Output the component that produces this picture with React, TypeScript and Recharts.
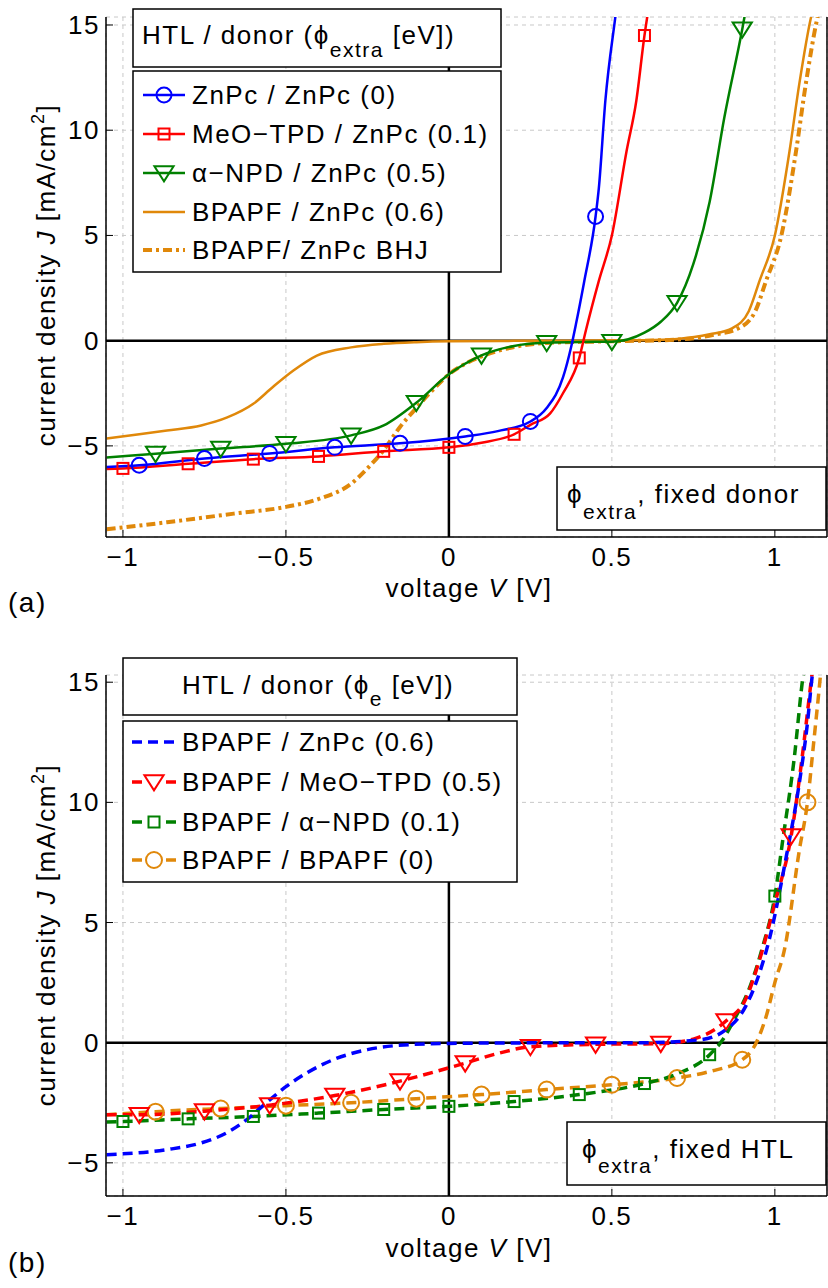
import { CartesianGrid, ComposedChart, Line, ReferenceLine, Scatter, XAxis, YAxis } from "recharts";

const FONT = '"Liberation Sans", Arial, Helvetica, sans-serif';
const LS = 1.5;
const PHI = "\u03d5";

const BLUE = "#0000ff";
const RED = "#ff0000";
const GREEN = "#008000";
const ORANGE = "#e0880a";

const xTicks = [-1, -0.5, 0, 0.5, 1];
const yTicks = [-5, 0, 5, 10, 15];
const xDomain = [-1.052, 1.16];
const yDomainA = [-9.33, 15.38];
const yDomainB = [-6.38, 15.3];

// (a) fixed donor, varying HTL
const aZnpcV = [-1.05, -0.95, -0.75, -0.55, -0.35, -0.15, 0.05, 0.15, 0.25, 0.3, 0.35, 0.375, 0.39, 0.415, 0.45, 0.46, 0.48, 0.51, 0.52];
const aZnpcJ = [-6.0, -5.92, -5.6, -5.36, -5.07, -4.88, -4.55, -4.3, -3.84, -3.2, -1.75, -0.3, 0.8, 2.8, 5.9, 7.25, 11.4, 15.3, 16.5];
const aZnpcMarks = [-0.95, -0.75, -0.55, -0.35, -0.15, 0.05, 0.25, 0.45];

const aMeoV = [-1.05, -1.0, -0.8, -0.6, -0.4, -0.2, 0, 0.1, 0.2, 0.25, 0.31, 0.35, 0.4, 0.42, 0.46, 0.5, 0.545, 0.575, 0.6, 0.62];
const aMeoJ = [-6.1, -6.07, -5.85, -5.63, -5.5, -5.26, -5.07, -4.85, -4.45, -4.0, -3.47, -2.5, -0.82, 0.47, 2.84, 5.0, 9.0, 11.4, 14.5, 16.5];
const aMeoMarks = [-1.0, -0.8, -0.6, -0.4, -0.2, 0, 0.2, 0.4, 0.6];

const aNpdV = [-1.05, -0.9, -0.7, -0.5, -0.3, -0.2, -0.1, 0, 0.1, 0.2, 0.3, 0.4, 0.5, 0.6, 0.65, 0.7, 0.75, 0.8, 0.845, 0.9, 0.92];
const aNpdJ = [-5.55, -5.37, -5.13, -4.9, -4.5, -4.03, -2.95, -1.6, -0.7, -0.25, -0.1, -0.06, -0.05, 0.38, 0.9, 1.8, 3.65, 6.6, 10.6, 14.8, 16.5];
const aNpdMarks = [-0.9, -0.7, -0.5, -0.3, -0.1, 0.1, 0.3, 0.5, 0.7, 0.9];

const aBpapfV = [-1.05, -0.95, -0.865, -0.76, -0.68, -0.6, -0.54, -0.477, -0.405, -0.3, -0.2, -0.1, 0, 0.2, 0.4, 0.6, 0.7, 0.8, 0.87, 0.92, 0.953, 1.0, 1.045, 1.075, 1.11, 1.13];
const aBpapfJ = [-4.65, -4.45, -4.27, -4.03, -3.65, -3.0, -2.2, -1.42, -0.71, -0.32, -0.15, -0.07, -0.03, -0.01, 0, 0.02, 0.08, 0.3, 0.6, 1.4, 2.84, 5.0, 9.0, 12.2, 15.3, 16.5];

const aBhjV = [-1.05, -0.865, -0.66, -0.5, -0.395, -0.3, -0.25, -0.2, -0.15, -0.1, -0.05, 0, 0.05, 0.1, 0.2, 0.31, 0.5, 0.7, 0.82, 0.89, 0.94, 0.973, 1.02, 1.065, 1.095, 1.13, 1.15];
const aBhjJ = [-8.96, -8.63, -8.22, -7.9, -7.5, -6.8, -6.07, -5.2, -4.1, -3.2, -2.35, -1.6, -1.1, -0.75, -0.3, -0.1, -0.03, 0.05, 0.3, 0.6, 1.4, 2.84, 5.0, 9.0, 12.2, 15.3, 16.5];

// (b) fixed HTL (BPAPF), varying donor
const bZnpcV = [-1.05, -0.865, -0.76, -0.68, -0.62, -0.56, -0.5, -0.435, -0.355, -0.25, -0.12, 0, 0.2, 0.4, 0.6, 0.77, 0.85, 0.91, 0.953, 0.983, 1.035, 1.075, 1.1, 1.115, 1.13];
const bZnpcJ = [-4.66, -4.45, -4.17, -3.74, -3.2, -2.5, -1.83, -1.25, -0.71, -0.29, -0.08, -0.03, -0.01, 0, 0, 0.12, 0.54, 1.5, 2.9, 4.3, 7.74, 10.8, 13.3, 15.3, 16.5];

const bMeoV = [-1.05, -0.95, -0.75, -0.55, -0.35, -0.15, 0.05, 0.15, 0.25, 0.45, 0.65, 0.75, 0.85, 0.91, 0.953, 1.0, 1.05, 1.084, 1.111, 1.125];
const bMeoJ = [-3.0, -3.0, -2.85, -2.6, -2.2, -1.6, -0.85, -0.45, -0.17, -0.07, -0.04, 0.15, 0.9, 1.8, 3.45, 5.8, 8.6, 11.9, 15.0, 16.5];
const bMeoMarks = [-0.95, -0.75, -0.55, -0.35, -0.15, 0.05, 0.25, 0.45, 0.65, 0.85, 1.05];

const bNpdV = [-1.05, -1.0, -0.8, -0.6, -0.4, -0.2, 0, 0.2, 0.4, 0.6, 0.7, 0.8, 0.84, 0.88, 0.92, 0.96, 1.0, 1.024, 1.06, 1.085, 1.1];
const bNpdJ = [-3.3, -3.28, -3.17, -3.07, -2.93, -2.78, -2.65, -2.45, -2.16, -1.7, -1.3, -0.5, 0.12, 1.08, 2.2, 3.87, 6.1, 8.4, 11.9, 15.1, 16.5];
const bNpdMarks = [-1.0, -0.8, -0.6, -0.4, -0.2, 0, 0.2, 0.4, 0.6, 0.8, 1.0];

const bBpapfV = [-1.05, -0.9, -0.7, -0.5, -0.3, -0.1, 0.1, 0.3, 0.5, 0.7, 0.8, 0.9, 0.943, 0.973, 1.0, 1.03, 1.075, 1.1, 1.12, 1.14, 1.15];
const bBpapfJ = [-3.0, -2.87, -2.74, -2.62, -2.5, -2.33, -2.16, -1.95, -1.75, -1.47, -1.2, -0.71, 0, 1.08, 2.5, 3.9, 8.0, 10.0, 12.6, 15.3, 16.8];
const bBpapfMarks = [-0.9, -0.7, -0.5, -0.3, -0.1, 0.1, 0.3, 0.5, 0.7, 0.9, 1.1];

const namesA = ["ZnPc / ZnPc (0)", "MeO\u2212TPD / ZnPc (0.1)", "\u03b1\u2212NPD / ZnPc (0.5)", "BPAPF / ZnPc (0.6)", "BPAPF/ ZnPc BHJ"];
const namesB = ["BPAPF / ZnPc (0.6)", "BPAPF / MeO\u2212TPD (0.5)", "BPAPF / \u03b1\u2212NPD (0.1)", "BPAPF / BPAPF (0)"];

type Pt = { v: number; j: number };
type Kind = "circle" | "square" | "tri";

const pts = (v: number[], j: number[]): Pt[] => v.map((x, i) => ({ v: x, j: j[i] }));
const pick = (data: Pt[], marks: number[]) => data.filter((p) => marks.includes(p.v));
const fmt = (n: number) => (n < 0 ? "\u2212" + Math.abs(n) : String(n));

function Mark({ cx, cy, kind, color, size }: { cx: number; cy: number; kind: Kind; color: string; size: number }) {
  if (kind === "circle") return <circle cx={cx} cy={cy} r={size} fill="none" stroke={color} strokeWidth={2} />;
  if (kind === "square")
    return <rect x={cx - size} y={cy - size} width={size * 2} height={size * 2} fill="none" stroke={color} strokeWidth={2} />;
  const w = size * 1.2;
  return (
    <path
      d={`M${cx - w},${cy - size * 0.85} L${cx + w},${cy - size * 0.85} L${cx},${cy + size * 1.05} Z`}
      fill="none"
      stroke={color}
      strokeWidth={2}
    />
  );
}

const shape = (kind: Kind, color: string, size: number) => (p: any) =>
  <Mark cx={p.cx} cy={p.cy} kind={kind} color={color} size={size} />;

const XTick = (p: any) => (
  <text x={p.x} y={p.y} dy={29} textAnchor="middle" fontFamily={FONT} fontSize={26} letterSpacing={LS} fill="#000">
    {fmt(p.payload.value)}
  </text>
);

const YTick = (p: any) => (
  <text x={p.x} y={p.y} dx={-6} dy={9} textAnchor="end" fontFamily={FONT} fontSize={26} letterSpacing={LS} fill="#000">
    {fmt(p.payload.value)}
  </text>
);

type Series = { data: Pt[]; color: string; width: number; dash?: string; marks?: Pt[]; kind?: Kind; size?: number };

function Panel({ height, top, plotH, yDomain, series }: { height: number; top: number; plotH: number; yDomain: number[]; series: Series[] }) {
  const axisLine = { stroke: "#000", strokeWidth: 1.5 };
  const tickLine = { stroke: "#000", strokeWidth: 1 };
  return (
    <ComposedChart width={828} height={height} margin={{ top, right: 0, bottom: 0, left: 0 }}>
      <CartesianGrid stroke="#c8c8c8" strokeDasharray="4 4" strokeWidth={1} />
      <XAxis
        type="number"
        dataKey="v"
        domain={xDomain}
        ticks={xTicks}
        interval={0}
        allowDataOverflow
        height={height - top - plotH}
        axisLine={axisLine}
        tickLine={tickLine}
        tickSize={-7}
        tickMargin={7}
        tick={XTick}
      />
      <XAxis xAxisId="top" orientation="top" type="number" domain={xDomain} ticks={xTicks} interval={0} allowDataOverflow height={0} axisLine={axisLine} tickLine={tickLine} tickSize={-7} tick={false} />
      <YAxis
        type="number"
        dataKey="j"
        domain={yDomain}
        ticks={yTicks}
        interval={0}
        allowDataOverflow
        width={106}
        axisLine={axisLine}
        tickLine={tickLine}
        tickSize={-7}
        tickMargin={7}
        tick={YTick}
      />
      <YAxis yAxisId="right" orientation="right" type="number" domain={yDomain} ticks={yTicks} interval={0} allowDataOverflow width={1} axisLine={axisLine} tickLine={tickLine} tickSize={-7} tick={false} />
      <ReferenceLine x={0} stroke="#000" strokeWidth={2.5} />
      <ReferenceLine y={0} stroke="#000" strokeWidth={2.5} />
      {series.map((s, i) => (
        <Line
          key={"l" + i}
          data={s.data}
          dataKey="j"
          type="monotone"
          stroke={s.color}
          strokeWidth={s.width}
          strokeDasharray={s.dash}
          dot={false}
          activeDot={false}
          isAnimationActive={false}
        />
      ))}
      {series
        .filter((s) => s.marks)
        .map((s, i) => (
          <Scatter key={"m" + i} data={s.marks} dataKey="j" shape={shape(s.kind!, s.color, s.size!)} isAnimationActive={false} />
        ))}
    </ComposedChart>
  );
}

const txt = { fontFamily: FONT, fontSize: 26, letterSpacing: LS, fill: "#000" } as const;

function LegendRow({ x0, x1, y, color, width, dash, kind, size, label, textX }: any) {
  return (
    <g>
      <line x1={x0} x2={x1} y1={y} y2={y} stroke={color} strokeWidth={width} strokeDasharray={dash} />
      {kind && <Mark cx={(x0 + x1) / 2} cy={y} kind={kind} color={color} size={size} />}
      <text x={textX} y={y + 9} {...txt}>
        {label}
      </text>
    </g>
  );
}

function AxisTitles({ base, midY }: { base: number; midY: number }) {
  return (
    <g>
      <text transform={`translate(55,${midY}) rotate(-90)`} textAnchor="middle" {...txt}>
        current density <tspan fontStyle="italic">J</tspan> [mA/cm
        <tspan dy={-11} fontSize={18}>
          2
        </tspan>
        <tspan dy={11}>]</tspan>
      </text>
      <text x={469} y={base} textAnchor="middle" {...txt}>
        voltage <tspan fontStyle="italic">V</tspan> [V]
      </text>
    </g>
  );
}

export default function App() {
  const aZnpc = pts(aZnpcV, aZnpcJ);
  const aMeo = pts(aMeoV, aMeoJ);
  const aNpd = pts(aNpdV, aNpdJ);
  const bMeo = pts(bMeoV, bMeoJ);
  const bNpd = pts(bNpdV, bNpdJ);
  const bBpapf = pts(bBpapfV, bBpapfJ);

  const seriesA: Series[] = [
    { data: pts(aBpapfV, aBpapfJ), color: ORANGE, width: 2.5 },
    { data: pts(aBhjV, aBhjJ), color: ORANGE, width: 4, dash: "9 4 3 4" },
    { data: aNpd, color: GREEN, width: 2.5, marks: pick(aNpd, aNpdMarks), kind: "tri", size: 8 },
    { data: aMeo, color: RED, width: 2.5, marks: pick(aMeo, aMeoMarks), kind: "square", size: 5.5 },
    { data: aZnpc, color: BLUE, width: 2.5, marks: pick(aZnpc, aZnpcMarks), kind: "circle", size: 7.5 },
  ];
  const seriesB: Series[] = [
    { data: bBpapf, color: ORANGE, width: 3.5, dash: "10 6", marks: pick(bBpapf, bBpapfMarks), kind: "circle", size: 8 },
    { data: bNpd, color: GREEN, width: 3.5, dash: "10 6", marks: pick(bNpd, bNpdMarks), kind: "square", size: 5.5 },
    { data: bMeo, color: RED, width: 3.5, dash: "10 6", marks: pick(bMeo, bMeoMarks), kind: "tri", size: 8 },
    { data: pts(bZnpcV, bZnpcJ), color: BLUE, width: 3.5, dash: "10 6" },
  ];

  return (
    <div style={{ position: "absolute", left: 0, top: 0, width: 828, height: 1288, background: "#fff", fontFamily: FONT }}>
      <Panel height={600} top={17} plotH={520} yDomain={yDomainA} series={seriesA} />
      <Panel height={688} top={75} plotH={521} yDomain={yDomainB} series={seriesB} />
      <svg width={828} height={1288} style={{ position: "absolute", left: 0, top: 0, pointerEvents: "none" }}>
        {/* panel (a) */}
        <AxisTitles base={597} midY={275} />
        <text x={8} y={612} {...txt} fontSize={28}>
          (a)
        </text>
        <rect x={133} y={9} width={368} height={58} fill="#fff" stroke="#000" strokeWidth={1.5} />
        <text x={142} y={44} {...txt}>
          HTL / donor ({PHI}
          <tspan dy={13} fontSize={21}>
            extra
          </tspan>
          <tspan dy={-13}> [eV])</tspan>
        </text>
        <rect x={133} y={71} width={368} height={201} fill="#fff" stroke="#000" strokeWidth={1.5} />
        <LegendRow x0={143} x1={185} y={95} color={BLUE} width={2.5} kind="circle" size={7.5} label={namesA[0]} textX={192} />
        <LegendRow x0={143} x1={185} y={134} color={RED} width={2.5} kind="square" size={5.5} label={namesA[1]} textX={192} />
        <LegendRow x0={143} x1={185} y={173} color={GREEN} width={2.5} kind="tri" size={8} label={namesA[2]} textX={192} />
        <LegendRow x0={143} x1={185} y={212} color={ORANGE} width={2.5} label={namesA[3]} textX={192} />
        <LegendRow x0={143} x1={185} y={250} color={ORANGE} width={4} dash="9 4 3 4" label={namesA[4]} textX={192} />
        <rect x={557} y={467} width={269} height={63} fill="#fff" stroke="#000" strokeWidth={1.5} />
        <text x={567} y={503} {...txt}>
          {PHI}
          <tspan dy={16} fontSize={21}>
            extra
          </tspan>
          <tspan dy={-16}>, fixed donor</tspan>
        </text>

        {/* panel (b) */}
        <AxisTitles base={1257} midY={935} />
        <text x={8} y={1272} {...txt} fontSize={28}>
          (b)
        </text>
        <rect x={123} y={658} width={394} height={57} fill="#fff" stroke="#000" strokeWidth={1.5} />
        <text x={318} y={694} textAnchor="middle" {...txt}>
          HTL / donor ({PHI}
          <tspan dy={12} fontSize={21}>
            e
          </tspan>
          <tspan dy={-12}> [eV])</tspan>
        </text>
        <rect x={123} y={721} width={394} height={161} fill="#fff" stroke="#000" strokeWidth={1.5} />
        <LegendRow x0={132} x1={176} y={742} color={BLUE} width={3.5} dash="10 6" label={namesB[0]} textX={182} />
        <LegendRow x0={132} x1={176} y={782} color={RED} width={3.5} dash="10 24 10" kind="tri" size={8} label={namesB[1]} textX={182} />
        <LegendRow x0={132} x1={176} y={822} color={GREEN} width={3.5} dash="10 24 10" kind="square" size={5.5} label={namesB[2]} textX={182} />
        <LegendRow x0={132} x1={176} y={860} color={ORANGE} width={3.5} dash="10 24 10" kind="circle" size={8} label={namesB[3]} textX={182} />
        <rect x={567} y={1122} width={259} height={63} fill="#fff" stroke="#000" strokeWidth={1.5} />
        <text x={582} y={1158} {...txt}>
          {PHI}
          <tspan dy={15} fontSize={21}>
            extra
          </tspan>
          <tspan dy={-15}>, fixed HTL</tspan>
        </text>
      </svg>
    </div>
  );
}
